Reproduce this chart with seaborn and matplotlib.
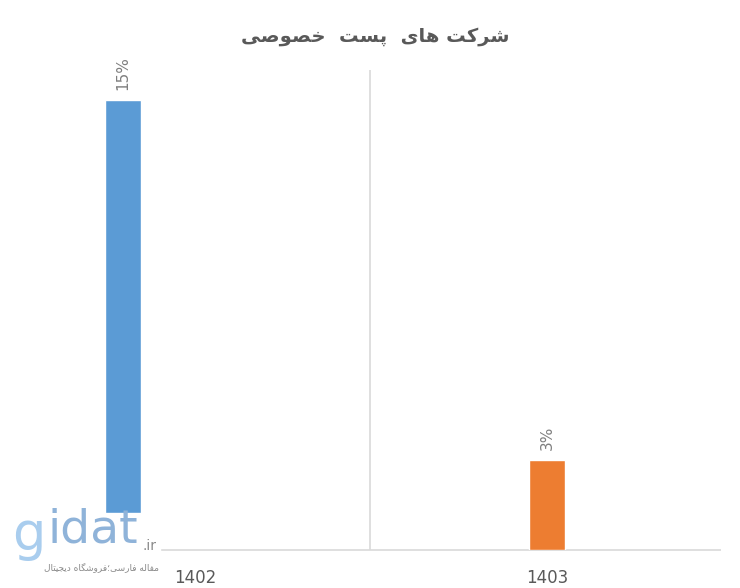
import matplotlib
matplotlib.use("Agg")
import matplotlib.pyplot as plt
import matplotlib.patches as mpatches
import seaborn as sns
import pandas as pd

# data
years = ['1402', '1403']
shares = [15, 3]
bar_colors = ['#5b9bd5', '#ed7d31']
share_labels = ['15%', '3%']

# title "شرکت‌های پست خصوصی" in shaped presentation forms (visual order)
title_txt = ('\uFBFD\uFEBB\uFEEE\uFEBC\uFEA7' + '  ' +
             '\uFE96\uFEB4\uFB58' + '  ' +
             '\uFBFC\uFE8E\uFEEB' + ' ' + '\uFE96\uFB90\uFEAE\uFEB7')
# "مقاله فارسی؛فروشگاه دیجیتال"
wm_sub = ('\uFEDD\uFE8E\uFE98\uFBFF\uFEA0\uFBFE\uFEA9' + ' ' +
          '\uFEE9\uFE8E\uFB95\uFEB7\uFEED\uFEAE\uFED3' + '\u061B' +
          '\uFBFD\uFEB3\uFEAD\uFE8E\uFED3' + ' ' +
          '\uFEEA\uFEDF\uFE8E\uFED4\uFEE3')

sns.set_theme(style='white')
plt.rcParams['font.family'] = ['DejaVu Sans']

df = pd.DataFrame({'year': years, 'share': shares})

fig = plt.figure(figsize=(7.4, 5.88), dpi=100)
ax = fig.add_axes([0, 38 / 588, 1, 480 / 588])

sns.barplot(data=df, x='year', y='share', hue='year', palette=bar_colors,
            width=0.085, saturation=1, legend=False, ax=ax, zorder=3)

ax.set_xlim(-123 / 424, (740 - 123) / 424)
ax.set_ylim(0, 16)
for s in ax.spines.values():
    s.set_visible(False)

# axis line and single gridline
ax.hlines(0, (160 - 123) / 424, (721 - 123) / 424, color='#d9d9d9', lw=1.2, zorder=2, clip_on=False)
ax.vlines((370 - 123) / 424, 0, 16, color='#d9d9d9', lw=1.2, zorder=1)

ax.set_yticks([])
ax.set_xticks([0.17, 1.0])
ax.set_xticklabels(years, fontsize=12, color='#595959')
ax.tick_params(axis='x', length=0, pad=14)
ax.set_xlabel('')
ax.set_ylabel('')

for i, (v, lab) in enumerate(zip(shares, share_labels)):
    ax.annotate(lab, (i, v), xytext=(0, 7), textcoords='offset points',
                rotation=90, ha='center', va='bottom', fontsize=11, color='#7f7f7f')

fig.text(375 / 740, 1 - 36 / 588, title_txt, ha='center', va='center',
         fontsize=14, fontweight='bold', color='#595959')

# watermark
fig.patches.append(mpatches.Rectangle((10 / 740, 3 / 588), 150 / 740, 72 / 588,
                                      transform=fig.transFigure, color='white', zorder=5))
fig.text(12 / 740, 1 - 535 / 588, 'g', fontsize=38, color='#a9cdee', va='center', zorder=6)
fig.text(48 / 740, 1 - 530 / 588, 'idat', fontsize=34, color='#8fb3d9', va='center', zorder=6)
fig.text(143 / 740, 1 - 546 / 588, '.ir', fontsize=10, color='#8a8a8a', va='center', zorder=6)
fig.text(159 / 740, 1 - 567 / 588, wm_sub, fontsize=6.5, color='#8a8a8a', ha='right', va='center', zorder=6)

fig.savefig('out.png', dpi=100)
